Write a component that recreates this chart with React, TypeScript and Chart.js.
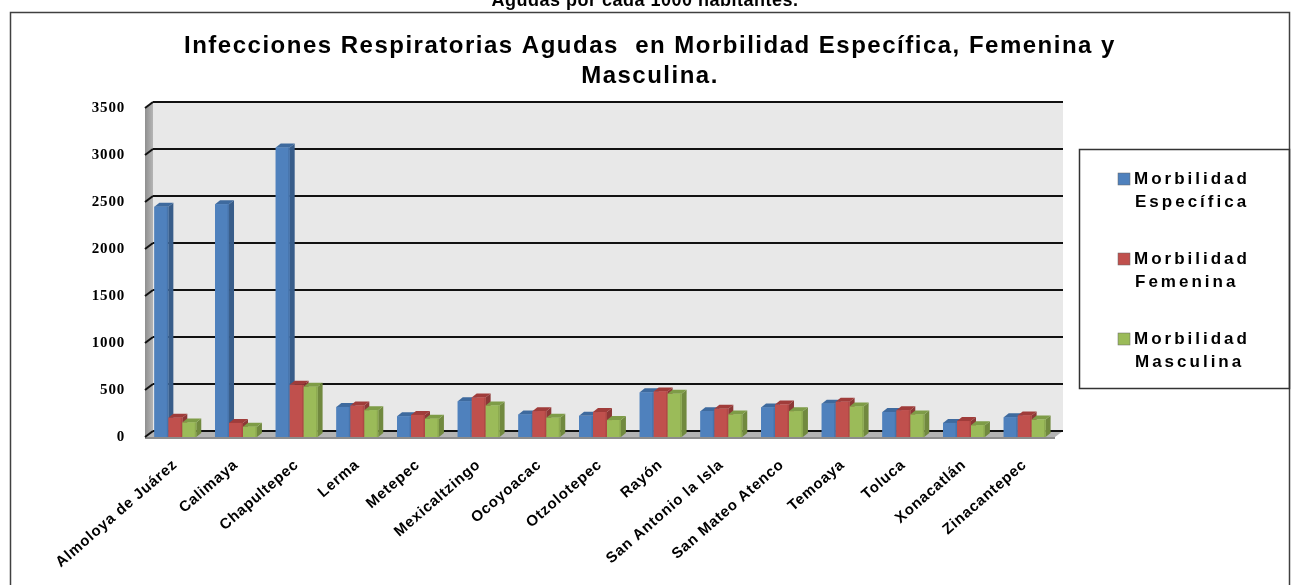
import React, { useEffect, useRef } from "react";
import { Chart, registerables } from "chart.js";
Chart.register(...registerables);

const categories = [
  "Almoloya de Juárez", "Calimaya", "Chapultepec", "Lerma", "Metepec",
  "Mexicaltzingo", "Ocoyoacac", "Otzolotepec", "Rayón", "San Antonio la Isla",
  "San Mateo Atenco", "Temoaya", "Toluca", "Xonacatlán", "Zinacantepec",
];
const especifica = [2450, 2475, 3080, 320, 220, 380, 240, 225, 475, 275, 315, 355, 265, 150, 210];
const femenina = [205, 150, 555, 335, 235, 420, 275, 265, 485, 300, 345, 375, 285, 170, 230];
const masculina = [155, 110, 535, 285, 195, 335, 205, 180, 460, 240, 275, 325, 240, 125, 185];
const seriesLabels = ["Morbilidad Específica", "Morbilidad Femenina", "Morbilidad Masculina"];
const yMax = 3500;
const yStep = 500;
const titleLines = [
  "Infecciones Respiratorias Agudas  en Morbilidad Específica, Femenina y",
  "Masculina.",
];
const topText = "Agudas por cada 1000 habitantes.";

const FRONT = ["#4F81BD", "#C0504D", "#9BBB59"];
const SIDE = ["#385D8A", "#8C3836", "#71893F"];
const TOP = ["#3E6A9E", "#A03C3A", "#7E9C47"];

const WX = 8; // wall depth offset x
const WY = 6; // wall depth offset y
const BX = 5; // bar depth x
const BY = 4; // bar depth y

const scenePlugin = {
  id: "scene",
  beforeDraw(chart: any) {
    const ctx = chart.ctx;
    const { left, right, top, bottom } = chart.chartArea;
    const yScale = chart.scales.y;
    ctx.save();
    ctx.fillStyle = "#ffffff";
    ctx.fillRect(0, 0, chart.width, chart.height);

    // clipped text above
    ctx.fillStyle = "#000";
    ctx.font = "bold 18px 'Liberation Sans', Arial, sans-serif";
    ctx.textAlign = "center";
    ctx.textBaseline = "alphabetic";
    (ctx as any).letterSpacing = "0.5px";
    ctx.fillText(topText, 645, 6);

    // outer border
    ctx.strokeStyle = "#404040";
    ctx.lineWidth = 1.5;
    ctx.strokeRect(10.5, 12.5, 1279, 600);

    // title
    ctx.font = "bold 24px 'Liberation Sans', Arial, sans-serif";
    (ctx as any).letterSpacing = "1.5px";
    ctx.fillStyle = "#000";
    ctx.textBaseline = "middle";
    ctx.fillText(titleLines[0], 650, 46);
    ctx.fillText(titleLines[1], 650, 76);
    (ctx as any).letterSpacing = "0px";

    // back wall
    ctx.fillStyle = "#e8e8e8";
    ctx.fillRect(left + WX, top - WY, right - left, bottom - top);

    // left wall
    const lg = ctx.createLinearGradient(left, 0, left + WX, 0);
    lg.addColorStop(0, "#8f8f8f");
    lg.addColorStop(1, "#b5b5b5");
    ctx.fillStyle = lg;
    ctx.beginPath();
    ctx.moveTo(left, top);
    ctx.lineTo(left + WX, top - WY);
    ctx.lineTo(left + WX, bottom - WY);
    ctx.lineTo(left, bottom);
    ctx.closePath();
    ctx.fill();

    // floor
    ctx.fillStyle = "#b4b4b4";
    ctx.beginPath();
    ctx.moveTo(left, bottom);
    ctx.lineTo(left + WX, bottom - WY);
    ctx.lineTo(right + WX, bottom - WY);
    ctx.lineTo(right, bottom);
    ctx.closePath();
    ctx.fill();
    ctx.fillStyle = "#8c8c8c";
    ctx.fillRect(left, bottom, right - left, 2);

    // grid lines on back wall
    ctx.strokeStyle = "#111";
    ctx.lineWidth = 2;
    for (let v = 0; v <= yMax; v += yStep) {
      const yf = yScale.getPixelForValue(v);
      ctx.beginPath();
      ctx.moveTo(left + WX, yf - WY);
      ctx.lineTo(right + WX, yf - WY);
      ctx.stroke();
      ctx.beginPath();
      ctx.moveTo(left, yf);
      ctx.lineTo(left + WX, yf - WY);
      ctx.stroke();
    }
    ctx.restore();
    // spacing for axis tick labels drawn next by the library
    (ctx as any).letterSpacing = "0.8px";
  },
  afterDatasetsDraw(chart: any) {
    const ctx = chart.ctx;
    const n = chart.data.labels.length;
    const metas = chart.data.datasets.map((_: any, i: number) => chart.getDatasetMeta(i));
    ctx.save();
    for (let c = 0; c < n; c++) {
      for (let d = 0; d < metas.length; d++) {
        const el = metas[d].data[c];
        const p = el.getProps(["x", "y", "width", "base"], true);
        const x0 = p.x - p.width / 2;
        const x1 = p.x + p.width / 2;
        const yT = p.y;
        const yB = p.base;
        // side
        ctx.fillStyle = SIDE[d];
        ctx.beginPath();
        ctx.moveTo(x1, yT);
        ctx.lineTo(x1 + BX, yT - BY);
        ctx.lineTo(x1 + BX, yB - BY);
        ctx.lineTo(x1, yB);
        ctx.closePath();
        ctx.fill();
        // top
        ctx.fillStyle = TOP[d];
        ctx.beginPath();
        ctx.moveTo(x0, yT);
        ctx.lineTo(x0 + BX, yT - BY);
        ctx.lineTo(x1 + BX, yT - BY);
        ctx.lineTo(x1, yT);
        ctx.closePath();
        ctx.fill();
        // front
        ctx.fillStyle = FRONT[d];
        ctx.fillRect(x0, yT, x1 - x0, yB - yT);
        ctx.fillStyle = SIDE[d];
        ctx.globalAlpha = 0.35;
        ctx.fillRect(x1 - 1.5, yT, 1.5, yB - yT);
        ctx.globalAlpha = 1;
      }
    }
    ctx.restore();
  },
  afterDraw(chart: any) {
    const ctx = chart.ctx;
    (ctx as any).letterSpacing = "0px";
    ctx.save();
    // legend box
    ctx.strokeStyle = "#333";
    ctx.lineWidth = 1.5;
    ctx.strokeRect(1079.5, 149.5, 210, 239);
    ctx.font = "bold 17px 'Liberation Sans', Arial, sans-serif";
    (ctx as any).letterSpacing = "3px";
    ctx.textAlign = "left";
    ctx.textBaseline = "middle";
    chart.data.datasets.forEach((ds: any, i: number) => {
      const cy = 179 + i * 80;
      ctx.fillStyle = ds.backgroundColor;
      ctx.fillRect(1118, cy - 6, 12, 12);
      ctx.strokeStyle = "#666";
      ctx.lineWidth = 0.5;
      ctx.strokeRect(1118, cy - 6, 12, 12);
      const parts = String(ds.label).split(" ");
      ctx.fillStyle = "#000";
      ctx.fillText(parts[0], 1134, cy);
      ctx.fillText(parts.slice(1).join(" "), 1135, cy + 23);
    });
    ctx.restore();
  },
};

export default function App() {
  const ref = useRef<HTMLCanvasElement | null>(null);
  useEffect(() => {
    document.body.style.margin = "0";
    const canvas = ref.current!;
    const chart = new Chart(canvas, {
      type: "bar",
      data: {
        labels: categories,
        datasets: [
          { label: seriesLabels[0], data: especifica, backgroundColor: FRONT[0] },
          { label: seriesLabels[1], data: femenina, backgroundColor: FRONT[1] },
          { label: seriesLabels[2], data: masculina, backgroundColor: FRONT[2] },
        ],
      },
      options: {
        responsive: false,
        animation: false,
        devicePixelRatio: 1,
        layout: { padding: { top: 108, right: 238, left: 0, bottom: 0 } },
        datasets: { bar: { categoryPercentage: 0.69, barPercentage: 1.0 } },
        plugins: { legend: { display: false }, title: { display: false }, tooltip: { enabled: false } },
        scales: {
          x: {
            grid: { display: false, drawTicks: false },
            border: { display: false },
            ticks: {
              minRotation: 41,
              maxRotation: 41,
              padding: 19,
              color: "#000",
              font: { family: "'Liberation Sans', Arial, sans-serif", size: 15, weight: "bold" },
            },
            afterFit: (s: any) => { s.height = 148; },
          },
          y: {
            min: 0,
            max: yMax,
            grid: { display: false, drawTicks: false },
            border: { display: false },
            ticks: {
              stepSize: yStep,
              padding: 20,
              color: "#000",
              callback: (v: any) => String(v),
              font: { family: "'Liberation Serif', 'Times New Roman', serif", size: 15, weight: "bold" },
            },
            afterFit: (s: any) => { s.width = 145; },
          },
        },
      },
      plugins: [scenePlugin],
    } as any);
    return () => chart.destroy();
  }, []);
  return (
    <div style={{ position: "absolute", left: 0, top: 0 }}>
      <canvas ref={ref} width={1293} height={585} style={{ display: "block", width: 1293, height: 585 }} />
    </div>
  );
}
